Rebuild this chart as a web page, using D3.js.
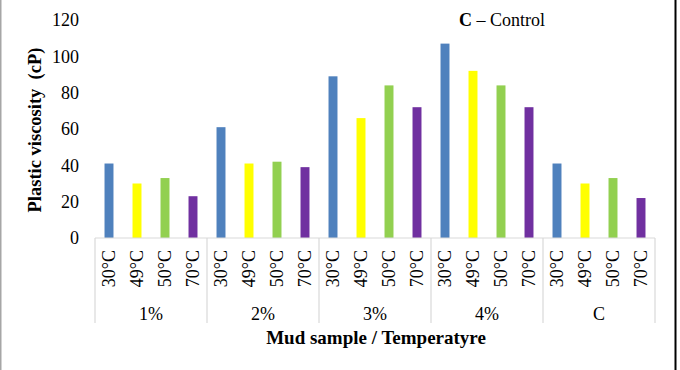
<!DOCTYPE html>
<html>
<head>
<meta charset="utf-8">
<script src="https://cdn.jsdelivr.net/npm/d3@7"></script>
<style>
  body { margin: 0; background: #fff; }
  svg { display: block; font-family: "Liberation Serif", "Times New Roman", serif; }
</style>
</head>
<body>
<svg width="680" height="370"></svg>
<script>
// data
const samples = ['1%', '2%', '3%', '4%', 'C'];
const temps = ['30°C', '49°C', '50°C', '70°C'];
const values = [
  [41, 30, 33, 23],
  [61, 41, 42, 39],
  [89, 66, 84, 72],
  [107, 92, 84, 72],
  [41, 30, 33, 22]
];
const yTicks = [0, 20, 40, 60, 80, 100, 120];
const colors = ['#4f81bd', '#ffff00', '#92d050', '#7030a0'];

const svg = d3.select('svg');

// frame lines on the sides
svg.append('line').attr('x1', 0.75).attr('x2', 0.75).attr('y1', 0).attr('y2', 370)
  .attr('stroke', '#a6a6a6').attr('stroke-width', 1.5);
svg.append('line').attr('x1', 675.5).attr('x2', 675.5).attr('y1', 0).attr('y2', 370)
  .attr('stroke', '#000').attr('stroke-width', 2);

// flatten to one row per bar
const rows = [];
samples.forEach((s, i) => {
  temps.forEach((t, j) => {
    rows.push({ key: s + '|' + t, sample: s, temp: t, ti: j, value: values[i][j] });
  });
});

const x = d3.scaleBand()
  .domain(rows.map(d => d.key))
  .range([95, 655])
  .paddingInner(0.68)
  .paddingOuter(0.34);

const y = d3.scaleLinear().domain([0, 120]).range([238, 20]);

// y axis (labels only)
const yAxis = svg.append('g')
  .attr('transform', 'translate(79,0)')
  .call(d3.axisLeft(y).tickValues(yTicks).tickSize(0).tickPadding(0));
yAxis.select('.domain').remove();
yAxis.selectAll('text')
  .attr('font-family', '"Liberation Serif", serif')
  .attr('font-size', 18)
  .attr('fill', '#000');

// bars
svg.append('g').selectAll('rect')
  .data(rows)
  .join('rect')
  .attr('x', d => x(d.key))
  .attr('width', x.bandwidth())
  .attr('y', d => y(d.value))
  .attr('height', d => y(0) - y(d.value))
  .attr('fill', d => colors[d.ti]);

// category axis
const axisCol = '#d9d9d9';
svg.append('line')
  .attr('x1', 95).attr('x2', 655).attr('y1', y(0)).attr('y2', y(0))
  .attr('stroke', axisCol).attr('stroke-width', 1.2);

const groupW = x.step() * temps.length;
d3.range(samples.length + 1).forEach(i => {
  const gx = 95 + i * groupW;
  svg.append('line')
    .attr('x1', gx).attr('x2', gx).attr('y1', y(0)).attr('y2', 323)
    .attr('stroke', axisCol).attr('stroke-width', 1.2);
});

// rotated temperature labels
svg.append('g').selectAll('text')
  .data(rows)
  .join('text')
  .attr('transform', d => `translate(${x(d.key) + x.bandwidth() / 2},250) rotate(-90)`)
  .attr('text-anchor', 'end')
  .attr('dominant-baseline', 'central')
  .attr('font-size', 18)
  .text(d => d.temp);

// sample labels
svg.append('g').selectAll('text')
  .data(samples)
  .join('text')
  .attr('x', (d, i) => 95 + i * groupW + groupW / 2)
  .attr('y', 314)
  .attr('text-anchor', 'middle')
  .attr('dominant-baseline', 'central')
  .attr('font-size', 18)
  .text(d => d);

// axis titles
svg.append('text')
  .attr('x', 376).attr('y', 344)
  .attr('text-anchor', 'middle')
  .attr('font-size', 19).attr('font-weight', 'bold')
  .text('Mud sample / Temperatyre');

svg.append('text')
  .attr('transform', 'translate(41,130) rotate(-90)')
  .attr('text-anchor', 'middle')
  .attr('font-size', 18.5).attr('font-weight', 'bold')
  .attr('xml:space', 'preserve')
  .style('white-space', 'pre')
  .text('Plastic viscosity  (cP)');

// note
const note = svg.append('text')
  .attr('x', 502).attr('y', 26)
  .attr('text-anchor', 'middle')
  .attr('font-size', 18);
note.append('tspan').attr('font-weight', 'bold').text('C');
note.append('tspan').text(' – Control');
</script>
</body>
</html>
